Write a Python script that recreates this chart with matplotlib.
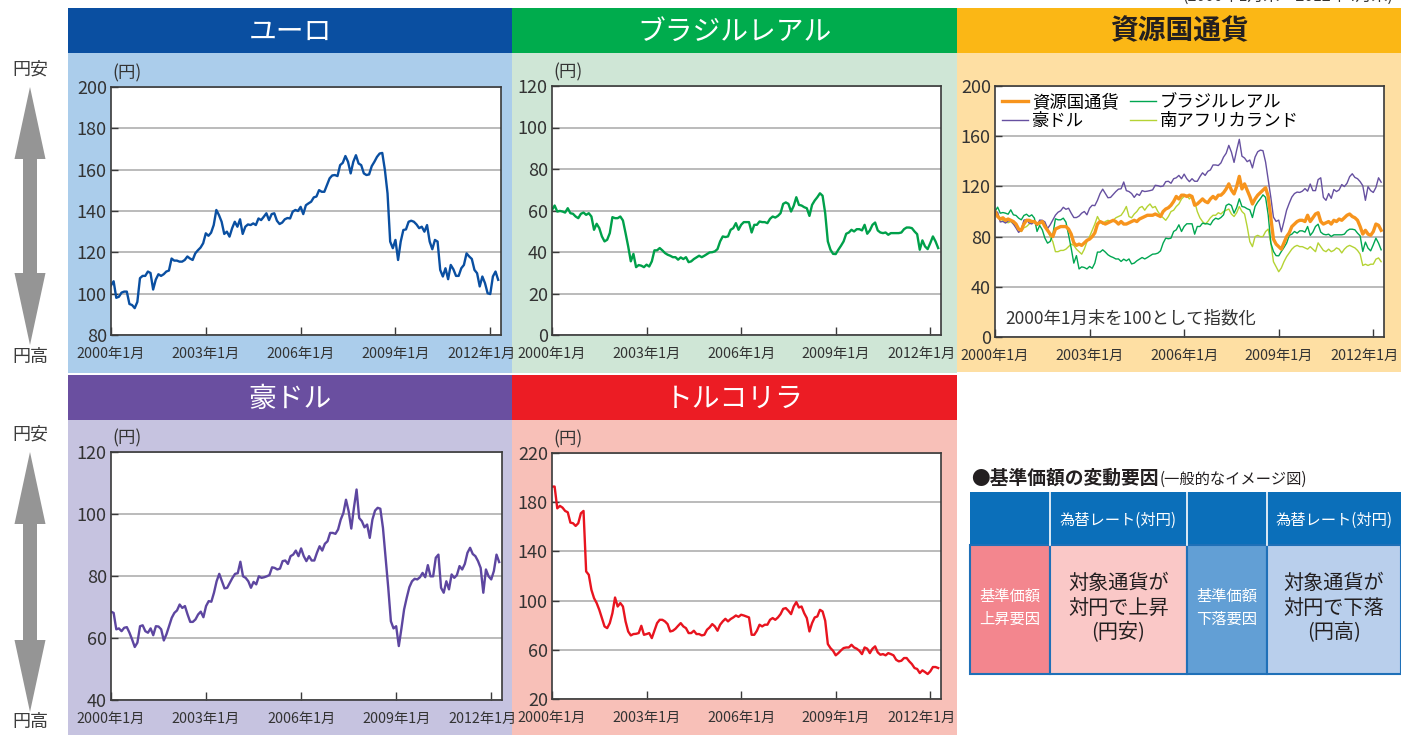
import numpy as np
import matplotlib.pyplot as plt
from matplotlib.patches import Rectangle, Polygon

plt.rcParams['font.family'] = ['Noto Sans CJK JP', 'DejaVu Sans']

W, H = 1401, 735

# month-end values, 2000年1月末 ~ 2012年4月末
eur = [104, 106, 98, 98.5, 100.5, 101, 101, 95, 94.5, 93, 96, 107.5,
       108.6, 108.6, 110.7, 110, 102, 106.8, 109.4, 108.6, 109.4, 110.7, 111.2, 117,
       116, 116, 115.5, 115.5, 116.3, 118, 117, 116.3, 119.5, 121, 122.3, 124.4,
       129.2, 128, 129.5, 133.2, 140.5, 138, 134.8, 128.9, 130, 127.6, 131.7, 134.8,
       132.4, 136, 128.9, 132.4, 133.5, 133.2, 134, 133.2, 136.4, 135.6, 137.2, 138.9,
       135.6, 138.5, 138.9, 135.3, 133.7, 134.4, 136, 136.6, 136.4, 139.7, 140.5, 140,
       142, 138.5, 142.8, 143.7, 144.5, 146.6, 147, 150.1, 149.3, 149.3, 152.5, 155.8,
       157.2, 157.4, 156.9, 162.2, 163.3, 166.6, 163.8, 158.2, 163.8, 167, 163, 162.2,
       158.2, 157.4, 157.7, 161.7, 163.8, 166.2, 167.8, 168.1, 159.8, 148.5, 125.2, 122,
       126, 116.3, 125.2, 130.8, 131.1, 134.8, 135.3, 134.8, 133.5, 131.7, 132.4, 130,
       133.2, 125.2, 121.5, 126, 125.2, 111.5, 108.3, 112.3, 107, 113.9, 111.8, 108.6,
       108.6, 112.3, 113.9, 119.5, 118, 116.8, 111.5, 109.9, 103.5, 108.3, 105.1, 100.2,
       99.8, 108.3, 110.7, 106.7]

brl = [60.3, 62.4, 59.5, 59.8, 59.5, 59, 61.1, 58.7, 58.4, 57.1, 56.3, 58.4,
       59, 57.9, 58.7, 57.1, 50.7, 53.6, 51.5, 47.5, 45.1, 45.9, 49.1, 56.8,
       56.3, 56.3, 57.1, 55.2, 49.1, 42.7, 35.5, 39.1, 32.7, 33.7, 33.4, 32.7,
       33.9, 33, 35.5, 40.8, 40.8, 41.9, 40.8, 39.5, 38.7, 38.2, 37.5, 37.5,
       36.3, 37.4, 36.6, 37.5, 35.1, 35.5, 36.6, 37.4, 38.2, 37.5, 38.2, 39,
       39.8, 39.9, 40.3, 41.4, 45.1, 47.5, 47.2, 47.5, 50.7, 51.5, 53.9, 50.7,
       53.1, 54.4, 54.4, 54.4, 49.4, 53.1, 53.1, 54.7, 54.4, 54.4, 53.9, 56,
       57.1, 56.6, 57.4, 58.7, 63.2, 63.9, 63.2, 59.5, 62.2, 66.4, 62.7, 62.4,
       61.6, 61.1, 57.4, 62.7, 64.8, 66.4, 68.3, 67.1, 58.7, 45.1, 41.1, 39.1,
       39, 41.1, 43, 45.1, 48.8, 49.4, 50.7, 49.9, 51, 51, 50.4, 53.1,
       48.8, 50.4, 53.1, 54.2, 50.4, 49.4, 49.1, 49.4, 48.3, 49.1, 49.1, 49.1,
       49.1, 49.4, 51, 51.8, 51.8, 51.5, 49.9, 48.6, 41.1, 45.6, 42.7, 41.4,
       44.3, 47.5, 45.1, 41.9]

aud = [68.5, 68.1, 62.8, 63.1, 62.2, 63.3, 63.5, 61.7, 59.5, 57.1, 58.5, 63.8,
       64.1, 62.2, 61.7, 63.1, 60.9, 63.8, 63.7, 62.8, 59.2, 61.2, 63.8, 66.5,
       68.1, 68.9, 70.8, 69.7, 70.3, 67.6, 65.2, 65.2, 66, 67.6, 68.5, 66.7,
       70.3, 71.9, 71.7, 74.6, 78.3, 80.7, 78.3, 76, 76.2, 77.8, 79.4, 80.7,
       80.9, 84.6, 79.9, 79.4, 78.3, 76.2, 78.1, 77.3, 79.9, 79.4, 79.6, 79.9,
       80.3, 82.8, 82.6, 82.1, 82.4, 84.8, 85, 83.9, 86.4, 86.9, 88.2, 86.4,
       88.9, 86.4, 84.8, 86.4, 85, 85, 87.5, 89.6, 88.2, 90.4, 91.2, 93.9,
       93.9, 93.6, 95, 98.2, 100.3, 104.6, 100.9, 95.3, 102, 107.9, 98.7, 97.7,
       95.7, 96.6, 92.3, 98.2, 101.1, 102, 101.7, 95.5, 85.9, 76.2, 65.4, 63.1,
       63.8, 57.4, 63.1, 69.2, 73, 76.4, 78.3, 79.1, 78.9, 79.6, 81, 79.6,
       83.5, 79.9, 79.9, 85.9, 86.9, 76.2, 74.6, 78.3, 75.7, 80.5, 79.4, 80.3,
       83.2, 82.1, 83.9, 87.5, 89.1, 87.1, 86.4, 84.8, 82.6, 74.6, 82.1, 79.9,
       78.9, 81.6, 86.9, 84.5]

tryl = [192.7, 192.7, 175, 177, 175.6, 172.9, 171.8, 163.4, 162.9, 160.7, 162.9, 171,
        172.9, 123.7, 121, 108.8, 102, 98, 92.5, 85.8, 79, 77.6, 81.7, 89.8,
        102.5, 95.2, 98, 95.2, 83.1, 74.9, 71.7, 72.8, 73, 73.6, 79.5, 72.2,
        72.8, 73.6, 69.5, 75.5, 81.7, 84.4, 84.4, 83.1, 80.9, 74.9, 75.5, 77.1,
        79.5, 81.7, 79, 77.6, 73.6, 73.6, 75.5, 72.8, 72.8, 71.7, 72.2, 76.3,
        78.2, 80.9, 79, 75.5, 80.4, 83.1, 85.2, 83.1, 85, 86.3, 87.9, 86.8,
        88.5, 87.9, 87.1, 86.3, 72.2, 72.2, 75.5, 80.4, 79, 80.4, 80.4, 84.4,
        85.8, 84.4, 86.3, 89, 93.3, 93.9, 91.7, 89, 95.2, 98.8, 94.4, 95.2,
        89.8, 85.8, 74.9, 81.7, 86.3, 87.1, 92.5, 91.2, 83.6, 64.7, 61.4, 59.2,
        55.5, 57.3, 59.5, 61.4, 61.9, 61.9, 64.1, 61.9, 60.9, 59.2, 56.5, 61.9,
        60.9, 57.3, 60.9, 62.8, 57.9, 56, 56.5, 55.5, 57.3, 56.5, 55.5, 51.9,
        50.6, 51.1, 53.3, 53.3, 50.6, 48.4, 45.2, 44.4, 41.1, 43.3, 41.9, 40.3,
        42.5, 46, 46, 45.2]

# index series (2000年1月末 = 100)
zar_idx = [100, 98, 94, 93, 92, 91, 92, 90, 89, 86, 84, 87,
           88, 90, 92, 91, 89, 90, 91, 90, 86, 80, 76, 68,
           68, 69, 69, 70, 72, 74, 73, 70, 68, 66, 70, 76,
           80, 85, 90, 96, 92, 90, 92, 93, 92, 93, 95, 96,
           97, 100, 104, 96, 95, 98, 100, 103, 104, 101, 104, 106,
           103, 104, 100, 97, 95, 93, 96, 100, 101, 104, 106, 110,
           112, 113, 110, 112, 108, 100, 95, 92, 90, 92, 95, 97,
           97, 99, 98, 100, 101, 102, 98, 96, 99, 104, 100, 98,
           88, 76, 72, 80, 81, 80, 80, 84, 86, 75, 60, 56,
           52, 55, 60, 64, 67, 70, 72, 73, 72, 72, 71, 70,
           72, 70, 68, 75, 72, 69, 68, 70, 68, 69, 71, 70,
           67, 70, 72, 73, 72, 71, 69, 66, 57, 58, 57, 58,
           58, 62, 63, 60]

basket_idx = [100, 96, 94, 95, 93, 94, 93, 92, 90, 86, 85, 90,
              93, 93, 92, 92, 90, 91, 92, 88, 85, 82, 80, 86,
              87, 88, 88, 88, 86, 82, 75, 73, 74, 73, 75, 77,
              78, 80, 83, 90, 92, 91, 90, 91, 92, 93, 92, 90,
              92, 90, 90, 91, 92, 93, 92, 94, 95, 96, 97, 97,
              97, 98, 97, 96, 100, 102, 103, 105, 108, 112, 110, 113,
              113, 112, 113, 112, 105, 106, 108, 110, 108, 107, 110, 112,
              110, 113, 113, 115, 118, 122, 117, 114, 120, 128, 118, 122,
              117, 112, 106, 110, 113, 115, 117, 119, 112, 95, 78, 74,
              72, 70, 75, 80, 83, 88, 90, 92, 93, 93, 92, 97,
              92, 95, 98, 99, 92, 90, 91, 92, 90, 93, 92, 94,
              93, 95, 97, 98, 96, 95, 93, 88, 82, 85, 82, 81,
              84, 90, 89, 85]

brl_idx = np.array(brl) / brl[0] * 100
aud_idx = np.array(aud) / aud[0] * 100

year_ticks = [2000, 2003, 2006, 2009, 2012]
year_labels = ['2000年1月', '2003年1月', '2006年1月', '2009年1月', '2012年1月']
months = 2000 + np.arange(len(eur)) / 12

fig = plt.figure(figsize=(W / 100, H / 100), dpi=100)

# background / decoration layer in pixel coordinates
bg = fig.add_axes([0, 0, 1, 1])
bg.set_xlim(0, W)
bg.set_ylim(H, 0)
bg.axis('off')

panels = [
    # x0, x1, header top, header bottom, bg bottom, header color, bg color, title, title color
    (68, 512, 8, 53, 373, '#0a4fa1', '#abcdeb', 'ユーロ', 'white'),
    (512, 957, 8, 53, 373, '#00ac4d', '#cfe6d6', 'ブラジルレアル', 'white'),
    (957, 1401, 8, 53, 372, '#fbb715', '#fedfa3', '資源国通貨', '#231f20'),
    (68, 512, 375, 420, 735, '#6a4fa0', '#c6c3e0', '豪ドル', 'white'),
    (512, 957, 375, 420, 735, '#ec1c24', '#f8c0b8', 'トルコリラ', 'white'),
]
for x0, x1, ht, hb, bb, hc, bc, title, tc in panels:
    bg.add_patch(Rectangle((x0, ht), x1 - x0, hb - ht, fc=hc, ec='none'))
    bg.add_patch(Rectangle((x0, hb), x1 - x0, bb - hb, fc=bc, ec='none'))
    bg.text((x0 + x1) / 2, (ht + hb) / 2 + 1, title, color=tc, fontsize=20,
            fontweight='bold' if tc != 'white' else 'normal', ha='center', va='center')

bg.text(1393, -4, '(2000年1月末～2012年4月末)', fontsize=11.5, color='#333333',
        ha='right', va='center')


def double_arrow(ytop, ybot, xc=30):
    hw, sw, hl = 15.5, 7, 72
    pts = [(xc, ytop), (xc + hw, ytop + hl), (xc + sw, ytop + hl), (xc + sw, ybot - hl),
           (xc + hw, ybot - hl), (xc, ybot), (xc - hw, ybot - hl), (xc - sw, ybot - hl),
           (xc - sw, ytop + hl), (xc - hw, ytop + hl)]
    bg.add_patch(Polygon(pts, closed=True, fc='#959595', ec='none'))


double_arrow(87, 345)
double_arrow(452, 712)
for y, s in [(70, '円安'), (357, '円高'), (435, '円安'), (722, '円高')]:
    bg.text(30, y, s, fontsize=13, color='#3c3c3c', ha='center', va='center')

# table of price factors
bg.text(971, 478, '●基準価額の変動要因', fontsize=13.5, fontweight='bold', color='#231f20',
        ha='left', va='center')
bg.text(1160, 479, '(一般的なイメージ図)', fontsize=11, color='#231f20', ha='left', va='center')

cols = [970, 1050, 1187, 1267, 1401]
top, mid, bot = 492, 545, 674
bg.add_patch(Rectangle((cols[0], top), cols[-1] - cols[0], mid - top, fc='#0b6fba', ec='none'))
for cx in cols[1:-1]:
    bg.plot([cx, cx], [top, mid], color='white', lw=1.2)
body_fc = ['#f3868e', '#fac8c7', '#629fd5', '#b9cfec']
for i, fc in enumerate(body_fc):
    bg.add_patch(Rectangle((cols[i], mid), cols[i + 1] - cols[i], bot - mid, fc=fc,
                           ec='#1f70b8', lw=1.5))
for i in (1, 3):
    bg.text((cols[i] + cols[i + 1]) / 2, 520, '為替レート(対円)', color='white', fontsize=11,
            ha='center', va='center')
bg.text((cols[0] + cols[1]) / 2, 608, '基準価額\n上昇要因', color='white', fontsize=11,
        ha='center', va='center', linespacing=1.5)
bg.text((cols[2] + cols[3]) / 2, 608, '基準価額\n下落要因', color='white', fontsize=11,
        ha='center', va='center', linespacing=1.5)
bg.text((cols[1] + cols[2]) / 2, 608, '対象通貨が\n対円で上昇\n(円安)', color='#231f20',
        fontsize=14.5, ha='center', va='center', linespacing=1.2)
bg.text((cols[3] + cols[4]) / 2, 608, '対象通貨が\n対円で下落\n(円高)', color='#231f20',
        fontsize=14.5, ha='center', va='center', linespacing=1.2)


def chart(x0, y0, x1, y1, ylim, yticks, unit=True):
    ax = fig.add_axes([x0 / W, 1 - y1 / H, (x1 - x0) / W, (y1 - y0) / H])
    ax.set_facecolor('white')
    ax.set_xlim(2000, 2012.34)
    ax.set_ylim(*ylim)
    ax.set_yticks(yticks)
    ax.set_xticks(year_ticks)
    ax.set_xticklabels([])
    ax.tick_params(axis='y', labelsize=13, labelcolor='#333333', direction='in',
                   length=5, pad=3, color='#3a3a3a', width=1)
    ax.tick_params(axis='x', direction='in', length=6, color='#3a3a3a', width=1)
    ax.grid(axis='y', color='#a8a8a8', lw=1.1)
    ax.set_axisbelow(True)
    for sp in ax.spines.values():
        sp.set_color('#3a3a3a')
        sp.set_linewidth(1.2)
    for k, (t, lab) in enumerate(zip(year_ticks, year_labels)):
        dx = -6.5 if k == len(year_ticks) - 1 else 0
        ax.annotate(lab, xy=(t, 0), xycoords=('data', 'axes fraction'), xytext=(dx, -13.5),
                    textcoords='offset points', ha='center', va='center', fontsize=10.3,
                    color='#333333', annotation_clip=False)
    if unit:
        ax.annotate('(円)', xy=(0, 1), xycoords='axes fraction', xytext=(1, 10),
                    textcoords='offset points', ha='left', va='center', fontsize=12.5,
                    color='#333333', annotation_clip=False)
    return ax


ax = chart(111, 87, 501, 335, (80, 200), range(80, 201, 20))
ax.plot(months, eur, color='#0a4fa1', lw=1.7)

ax = chart(552, 86, 941, 335, (0, 120), range(0, 121, 20))
ax.plot(months, brl, color='#00a04a', lw=1.7)

ax = chart(995, 86, 1384, 337, (0, 200), range(0, 201, 40), unit=False)
l4, = ax.plot(months, zar_idx, color='#b5d334', lw=1.0, label='南アフリカランド')
l2, = ax.plot(months, brl_idx, color='#00a651', lw=1.0, label='ブラジルレアル')
l3, = ax.plot(months, aud_idx, color='#6650a0', lw=1.0, label='豪ドル')
l1, = ax.plot(months, basket_idx, color='#f7941d', lw=2.4, label='資源国通貨')
ax.legend(handles=[l1, l3, l2, l4], ncol=2, loc='upper left', frameon=False, fontsize=12.5,
          handlelength=1.5, handletextpad=0.25, columnspacing=0.6, labelspacing=0.05,
          borderaxespad=0.1, borderpad=0.3)
ax.text(0.026, 0.075, '2000年1月末を100として指数化', transform=ax.transAxes, fontsize=12.5,
        color='#333333', ha='left', va='center')

ax = chart(111, 452, 502, 700, (40, 120), range(40, 121, 20))
ax.plot(months, aud, color='#5d46a0', lw=1.7)

ax = chart(552, 453, 941, 699, (20, 220), range(20, 221, 40))
ax.plot(months, tryl, color='#e8141f', lw=1.7)

fig.savefig('out.png', dpi=100)
